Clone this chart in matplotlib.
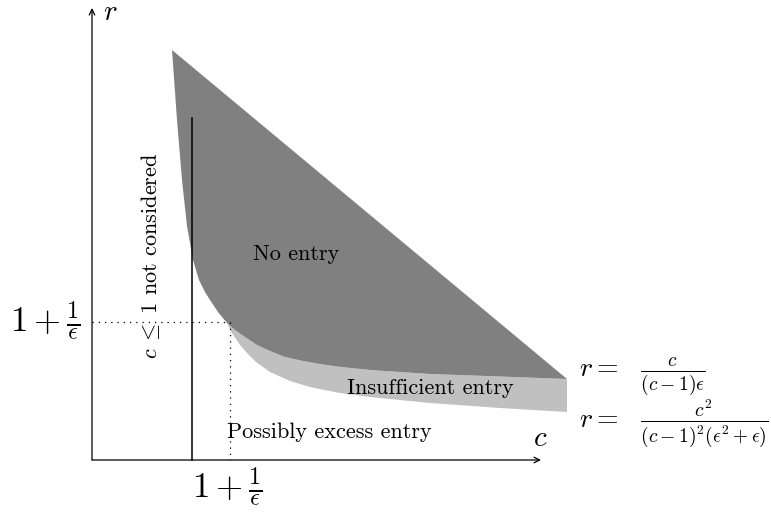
import matplotlib
matplotlib.use("Agg")
import matplotlib.pyplot as plt
from matplotlib.patches import Polygon

plt.rcParams['mathtext.fontset'] = 'cm'
plt.rcParams['font.family'] = ['cmr10', 'DejaVu Serif']
plt.rcParams['axes.unicode_minus'] = False

# Boundary of the "No entry" region (left edge, top vertex down to crossing point)
left_x = [172, 177, 182, 187, 193, 199, 205, 210, 218, 227]
left_y = [50, 120, 180, 226, 260, 280, 292, 300, 312, 323]
# r = c/((c-1)eps) curve beyond crossing point
upper_x = [227, 235, 245, 257, 270, 285, 303, 320, 337, 370, 430, 500, 567]
upper_y = [323, 330, 337, 345, 351, 357, 361, 364, 366.5, 370, 374, 376.5, 379]
# r = c^2/((c-1)^2(eps^2+eps)) curve beyond crossing point
lower_x = [227, 232, 240, 247, 256, 270, 290, 310, 337, 370, 430, 500, 567]
lower_y = [323, 333, 345, 353, 362, 372, 381, 387, 392.5, 397, 403, 408, 412]
# key points
top_vertex = (172, 50)
origin = (92, 460)
x_axis_end = 541
y_axis_end = 8
c_one_x = 192
c_one_top = 118
cross = (230, 322)

fig = plt.figure(figsize=(7.71, 5.14), dpi=100)
ax = fig.add_axes([0, 0, 1, 1])
ax.set_xlim(0, 771)
ax.set_ylim(514, 0)
ax.axis('off')

dark = '#808080'
light = '#c0c0c0'

# light region (insufficient entry)
light_pts = list(zip(lower_x, lower_y)) + list(zip(upper_x[::-1], upper_y[::-1]))
ax.add_patch(Polygon(light_pts, closed=True, facecolor=light, edgecolor='none', zorder=1))

# dark region (no entry)
dark_pts = [top_vertex] + list(zip(upper_x[::-1], upper_y[::-1])) \
    + list(zip(left_x[::-1], left_y[::-1]))[1:]
ax.add_patch(Polygon(dark_pts, closed=True, facecolor=dark, edgecolor='none', zorder=2))

# axes arrows
ax.annotate('', xy=(x_axis_end, origin[1]), xytext=(origin[0], origin[1]),
            arrowprops=dict(arrowstyle='->', lw=0.9, color='black', shrinkA=0, shrinkB=0), zorder=3)
ax.annotate('', xy=(origin[0], y_axis_end), xytext=(origin[0], origin[1]),
            arrowprops=dict(arrowstyle='->', lw=0.9, color='black', shrinkA=0, shrinkB=0), zorder=3)

# c = 1 line
ax.plot([c_one_x, c_one_x], [c_one_top, origin[1]], color='black', lw=1.1, zorder=4)

# dotted lines at 1 + 1/eps
ax.plot([origin[0], cross[0]], [cross[1], cross[1]], color='black', lw=0.9, ls=(0, (1, 4)), zorder=4)
ax.plot([cross[0], cross[0]], [cross[1], origin[1]], color='black', lw=0.9, ls=(0, (1, 4)), zorder=4)

# labels
ax.text(103, 13, r'$r$', fontsize=21, ha='left', va='center')
ax.text(540, 439, r'$c$', fontsize=21, ha='center', va='center')
ax.text(45, 321, r'$1+\frac{1}{\epsilon}$', fontsize=25, ha='center', va='center')
ax.text(227, 487, r'$1+\frac{1}{\epsilon}$', fontsize=25, ha='center', va='center')
ax.text(150, 256, r'$c\;\leq\;1$ not considered', fontsize=16, rotation=90, ha='center', va='center')
ax.text(296, 254, 'No entry', fontsize=16, ha='center', va='center', zorder=5)
ax.text(430, 388, 'Insufficient entry', fontsize=16, ha='center', va='center', zorder=5)
ax.text(329, 432, 'Possibly excess entry', fontsize=16, ha='center', va='center', zorder=5)
ax.text(579, 377, r'$r =\;\;\,\frac{c}{(c-1)\epsilon}$', fontsize=20, ha='left', va='center')
ax.text(579, 424, r'$r =\;\;\,\frac{c^2}{(c-1)^2(\epsilon^2+\epsilon)}$', fontsize=20, ha='left', va='center')

fig.savefig('out.png', dpi=100)
